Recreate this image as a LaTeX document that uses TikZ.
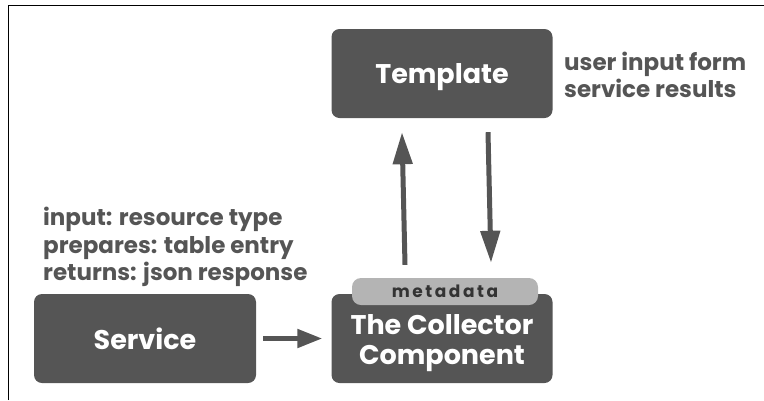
\documentclass[tikz,border=0pt]{standalone}
\usepackage{fontspec}
\setmainfont{Poppins}
\newfontfamily\metafont{Poppins}[LetterSpace=15]
\usetikzlibrary{arrows.meta}
\definecolor{boxgray}{HTML}{555555}
\definecolor{pillgray}{HTML}{B4B4B4}
\definecolor{txtgray}{HTML}{555555}
\definecolor{metatxt}{HTML}{333333}
\begin{document}
\begin{tikzpicture}[x=1pt,y=-1pt,
  box/.style={fill=boxgray, rounded corners=8pt, minimum width=221pt, minimum height=89pt,
    text=white, font=\fontsize{27}{29}\selectfont\bfseries, align=center, inner sep=0pt, text depth=0pt},
  pill/.style={fill=pillgray, rounded corners=9pt, minimum width=186pt, minimum height=27pt,
    text=metatxt, font=\metafont\fontsize{17}{18}\selectfont\bfseries, inner sep=0pt},
  note/.style={text=txtgray, font=\fontsize{23}{27.5}\selectfont\bfseries, align=left, inner sep=0pt},
  boxtext/.style={text=white, font=\fontsize{27}{30}\selectfont\bfseries, align=center, inner sep=0pt},
  arr/.style={draw=boxgray, line width=5pt, -{Triangle[length=32pt,width=19pt]}},
  sarr/.style={draw=boxgray, line width=5pt, -{Triangle[length=25pt,width=18pt]}}]
\useasboundingbox (0,0) rectangle (764,400);
\draw[line width=1pt, black] (8,400) -- (8,5.5) -- (764,5.5);

\node[box] (tpl) at (442,73.5) {Template};
\node[box] (col) at (442,338.5) {};
\node[box, minimum width=222pt] (svc) at (145,338.5) {Service};
\node[pill] (meta) at (445,291.5) {metadata};
\node[boxtext] (coltxt) at (442,343) {The Collector\\Component};

\node[note, anchor=west] (tplnote) at (564,75) {user input form\\service results};
\node[note, anchor=west] (svcnote) at (43,247) {input: resource type\\prepares: table entry\\returns: json response};

\draw[arr] ([xshift=-40pt,yshift=13pt]meta.north) -- ([xshift=-40pt,yshift=-14pt]tpl.south);
\draw[arr] ([xshift=46pt,yshift=-14pt]tpl.south) -- ([xshift=46pt,yshift=15pt]meta.north);
\draw[sarr] ([xshift=7pt]svc.east) -- ([xshift=-9pt]col.west);
\end{tikzpicture}
\end{document}
